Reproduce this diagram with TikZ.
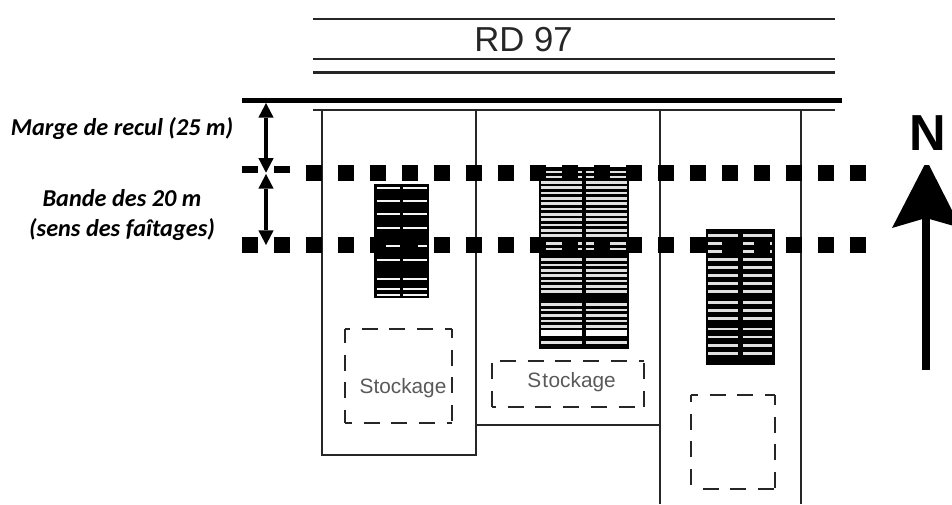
\documentclass[tikz,border=0pt]{standalone}
\usepackage{fontspec}
\setmainfont{Liberation Sans}
\newfontfamily\labelfont{Carlito}
\usetikzlibrary{arrows.meta}
\tikzset{
  px/.style={x=0.75pt,y=-0.75pt},
  thinline/.style={line width=1.6pt,black!85},
  parcel/.style={line width=1.5pt,black!85},
  stockside/.style={line width=1.4pt,black!85,dash pattern=on 12pt off 8.8pt,dash phase=#1},
  slat/.style={line width=1.6pt,black!4},
  graylat/.style={line width=2.0pt,black!12},
  dot/.style={fill=black},
  stocklabel/.style={font=\fontsize{15.6}{15.6}\selectfont,text=black!65,inner sep=0pt},
  sidelabel/.style={font=\labelfont\bfseries\itshape\fontsize{18.2}{22}\selectfont,align=center,inner sep=0pt},
  dim/.style={line width=3pt,{Triangle[length=11pt,width=11.5pt,line width=0pt]}-{Triangle[length=11pt,width=11.5pt,line width=0pt]}}
}
\begin{document}
\begin{tikzpicture}[px]
\useasboundingbox (0,0) rectangle (952,504);
\clip (0,0) rectangle (952,504);
% road
\foreach \yy in {19,59,72.5,110}{\draw[thinline] (313,\yy) -- (835,\yy);}
\draw[line width=3.8pt] (242,100.5) -- (842,100.5);
\node[inner sep=0pt,font=\fontsize{26}{26}\selectfont,text=black!85] (road) at (523.5,40) {RD 97};
% parcels
\draw[parcel] (322,110) -- (322,455) -- (476,455) -- (476,110);
\draw[parcel] (476,425) -- (660,425);
\draw[parcel] (660,110) -- (660,504);
\draw[parcel] (801,110) -- (801,504);
% building 1
\fill (374,184) rectangle (429,298);
\foreach \yy in {187.7,201,214.3,227.7,246,259.7,278.7,289.3,294.7}{
  \draw[slat] (376.7,\yy) -- (400,\yy);
  \draw[slat] (403.3,\yy) -- (426.7,\yy);
}
% building 2
\fill (539,167) rectangle (629,349);
\foreach \yy in {172,177,182.3,187.7,193,198.3,203.7,209,214.3,219.7,225,230.3,235.7,243.3,249,259.7,265,270.3,275.7,281,286.3,291.7,304.3,310,315.3,321,326.7,342.3}{
  \draw[graylat] (541,\yy) -- (581.7,\yy);
  \draw[graylat] (585.7,\yy) -- (627,\yy);
}
\fill[white] (541,330) rectangle (581.7,336);
\fill[white] (585.7,330) rectangle (627,336);
% building 3
\fill (706,229) rectangle (775,365);
\foreach \yy in {235.7,243.7,251.7,259.7,267.7,275.7,283.7,291.7,302.7,310.7,318.7,329,337,345.3,353.3}{
  \draw[graylat,line width=1.9pt] (708,\yy) -- (738,\yy);
  \draw[graylat,line width=1.9pt] (743,\yy) -- (772,\yy);
}
% dotted limits
\fill[dot] (242,165.5) rectangle (258,172.5);
\fill[dot] (274,165.5) rectangle (290,172.5);
\foreach \i in {2,...,19}{\fill[dot] ({242+32*\i},165) rectangle ({258+32*\i},181);}
\foreach \i in {0,...,19}{\fill[dot] ({242+32*\i},237) rectangle ({258+32*\i},253);}
% storage box 1
\draw[stockside=8.25pt] (345,329) -- (452,329);
\draw[stockside=1.5pt] (345,329) -- (345,423);
\draw[stockside=5.25pt] (452,329) -- (452,423);
\draw[stockside=6.75pt] (345,423) -- (452,423);
% storage box 2
\draw[stockside=14.8pt] (492,361) -- (644,361);
\draw[stockside=19.3pt] (492,361) -- (492,407);
\draw[stockside=19.3pt] (644,361) -- (644,407);
\draw[stockside=9pt] (492,407) -- (644,407);
% storage box 3
\draw[stockside=6.75pt] (691,395) -- (775,395);
\draw[stockside=6.75pt] (691,395) -- (691,489);
\draw[stockside=4.5pt] (775,395) -- (775,489);
\draw[stockside=12pt] (691,489) -- (775,489);
\node[stocklabel] (s1) at (403,388) {Stockage};
\node[stocklabel] (s2) at (571.5,382) {S\kern1pt t\kern0.3pt ockage};
% dimension arrows
\coordinate (a1) at (266,103);
\coordinate (a2) at (266,172.7);
\coordinate (a3) at (266,174);
\coordinate (a4) at (266,245);
\draw[dim] (a1) -- (a2);
\draw[dim] (a3) -- (a4);
% labels
\node[sidelabel] (m) at (122,128.5) {Marge de recul (25 m)};
\node[sidelabel] (b) at (122,215) {Bande des 20 m\\(sens des faîtages)};
% north
\node[inner sep=0pt,font=\bfseries\fontsize{38}{38}\selectfont] (n) at (928,133.5) {N};
\coordinate (na) at (926,370);
\coordinate (nt) at (926,218);
\draw[line width=6pt] (na) -- (nt);
\fill (924.5,165) -- (929,165) -- (961,228) -- (926,218) -- (892,228) -- cycle;
\end{tikzpicture}
\end{document}
